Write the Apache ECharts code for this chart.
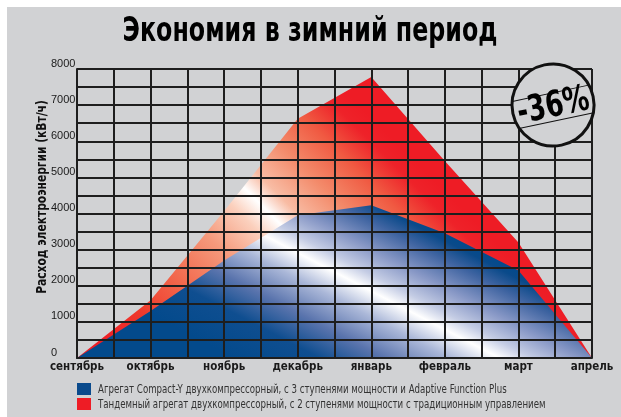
<!DOCTYPE html>
<html><head><meta charset="utf-8">
<script src="https://cdn.jsdelivr.net/npm/echarts@6/dist/echarts.min.js"></script>
<style>html,body{margin:0;padding:0;background:#fff}#c{width:621px;height:417px}</style>
</head><body><div id="c"></div>
<script>
const titleText = 'Экономия в зимний период';
const yAxisName = 'Расход электроэнергии (кВт/ч)';
const badgeText = '-36%';
const months = ['сентябрь','октябрь','ноябрь','декабрь','январь','февраль','март','апрель'];
const blueName = 'Агрегат Compact-Y двухкомпрессорный, с 3 ступенями мощности и Adaptive Function Plus';
const redName = 'Тандемный агрегат двухкомпрессорный, с 2 ступенями мощности с традиционным управлением';
const blueValues = [0, 1300, 2700, 3950, 4230, 3450, 2420, 0];
const redValues = [0, 1600, 4070, 6620, 7780, 5450, 3200, 0];
const yMax = 8000;

const COND = "'DejaVu Sans Condensed', 'DejaVu Sans', sans-serif";
const BG = '#d1d2d4';
const BLUE = '#0a4a8c';
const RED = '#ee1c25';
const chart = echarts.init(document.getElementById('c'), null, {renderer: 'canvas'});

const blueGrad = new echarts.graphic.LinearGradient(203, 342, 300, 156, [
  {offset: 0, color: '#034a8c'},
  {offset: 0.19, color: '#0f4e90'},
  {offset: 0.333, color: '#5a74ad'},
  {offset: 0.476, color: '#aab7d8'},
  {offset: 0.586, color: '#ffffff'},
  {offset: 0.657, color: '#c4cce4'},
  {offset: 0.762, color: '#8898c6'},
  {offset: 0.881, color: '#3f64a1'},
  {offset: 0.962, color: '#0a4a8a'},
  {offset: 1, color: '#034a8c'}
], true);
const redGrad = new echarts.graphic.LinearGradient(121, 361, 368, 114, [
  {offset: 0, color: '#ee1c25'},
  {offset: 0.143, color: '#ef3a2c'},
  {offset: 0.286, color: '#f26a4e'},
  {offset: 0.429, color: '#f59a7c'},
  {offset: 0.54, color: '#fbd0bd'},
  {offset: 0.6, color: '#ffffff'},
  {offset: 0.655, color: '#f8bca4'},
  {offset: 0.76, color: '#f38a6a'},
  {offset: 0.865, color: '#f05a42'},
  {offset: 0.95, color: '#ee2229'},
  {offset: 1, color: '#ee1c25'}
], true);

const gridLine = {color: '#1e1e1e', width: 2};

chart.setOption({
  backgroundColor: BG,
  animation: false,
  grid: {left: 77, right: 29, top: 69, bottom: 59},
  xAxis: {
    type: 'value', min: 0, max: months.length - 1, interval: 0.5, z: 3,
    axisLine: {show: true, lineStyle: gridLine},
    axisTick: {show: false},
    splitLine: {show: true, lineStyle: gridLine},
    axisLabel: {
      margin: 3, fontFamily: COND, fontWeight: 'bold', fontSize: 11.5, color: '#1a1a1a',
      formatter: v => Number.isInteger(v) ? months[v] : ''
    }
  },
  yAxis: {
    type: 'value', min: 0, max: yMax, interval: 500, z: 3,
    axisLine: {show: true, lineStyle: gridLine},
    axisTick: {show: false},
    splitLine: {show: true, lineStyle: gridLine},
    axisLabel: {
      align: 'left', verticalAlign: 'bottom', margin: 26,
      fontFamily: "'Liberation Sans', Arial, sans-serif", fontSize: 11, color: '#1a1a1a',
      formatter: v => v % 1000 === 0 ? String(v) : ''
    }
  },
  series: [
    {
      type: 'line', name: redName, z: 1, symbol: 'none', showSymbol: false,
      data: months.map((m, i) => [i, redValues[i]]),
      lineStyle: {width: 0}, itemStyle: {color: RED},
      areaStyle: {opacity: 1, color: redGrad}
    },
    {
      type: 'line', name: blueName, z: 1, symbol: 'none', showSymbol: false,
      data: months.map((m, i) => [i, blueValues[i]]),
      lineStyle: {width: 0}, itemStyle: {color: BLUE},
      areaStyle: {opacity: 1, color: blueGrad}
    }
  ],
  graphic: [
    {type: 'rect', z: 100, silent: true, shape: {x: 0, y: 0, width: 621, height: 7}, style: {fill: '#fff'}},
    {type: 'rect', z: 100, silent: true, shape: {x: 0, y: 0, width: 7, height: 417}, style: {fill: '#fff'}},
    {type: 'text', z: 100, silent: true, x: 310, y: 32, scaleX: 0.8,
      style: {text: titleText, fill: '#000', font: "bold 33px " + COND, textAlign: 'center', textVerticalAlign: 'middle'}},
    {type: 'text', z: 100, silent: true, x: 42, y: 197, rotation: Math.PI / 2, scaleX: 0.85,
      style: {text: yAxisName, fill: '#111', font: "bold 14px " + COND, textAlign: 'center', textVerticalAlign: 'middle'}},
    {type: 'group', z: 100, x: 553, y: 105, rotation: 0.21, silent: true, children: [
      {type: 'circle', z: 100, shape: {cx: 0, cy: 0, r: 41}, style: {fill: BG, stroke: '#111', lineWidth: 3}},
      {type: 'line', z: 101, shape: {x1: -39, y1: -12, x2: 39, y2: -12}, style: {stroke: '#111', lineWidth: 1}},
      {type: 'line', z: 101, shape: {x1: -37, y1: 16, x2: 37, y2: 16}, style: {stroke: '#111', lineWidth: 1}},
      {type: 'text', z: 102, x: 0, y: 2, scaleX: 0.8,
        style: {text: badgeText, fill: '#000', font: "bold 36px " + COND, textAlign: 'center', textVerticalAlign: 'middle'}}
    ]},
    {type: 'rect', z: 100, silent: true, shape: {x: 77, y: 383, width: 14, height: 12}, style: {fill: BLUE}},
    {type: 'rect', z: 100, silent: true, shape: {x: 77, y: 398, width: 14, height: 12}, style: {fill: RED}},
    {type: 'text', z: 100, silent: true, x: 98, y: 389.5, scaleX: 0.8,
      style: {text: blueName, fill: '#333', font: "12px " + COND, textAlign: 'left', textVerticalAlign: 'middle'}},
    {type: 'text', z: 100, silent: true, x: 98, y: 404.5, scaleX: 0.8,
      style: {text: redName, fill: '#333', font: "12px " + COND, textAlign: 'left', textVerticalAlign: 'middle'}}
  ]
});
</script>
</body></html>
